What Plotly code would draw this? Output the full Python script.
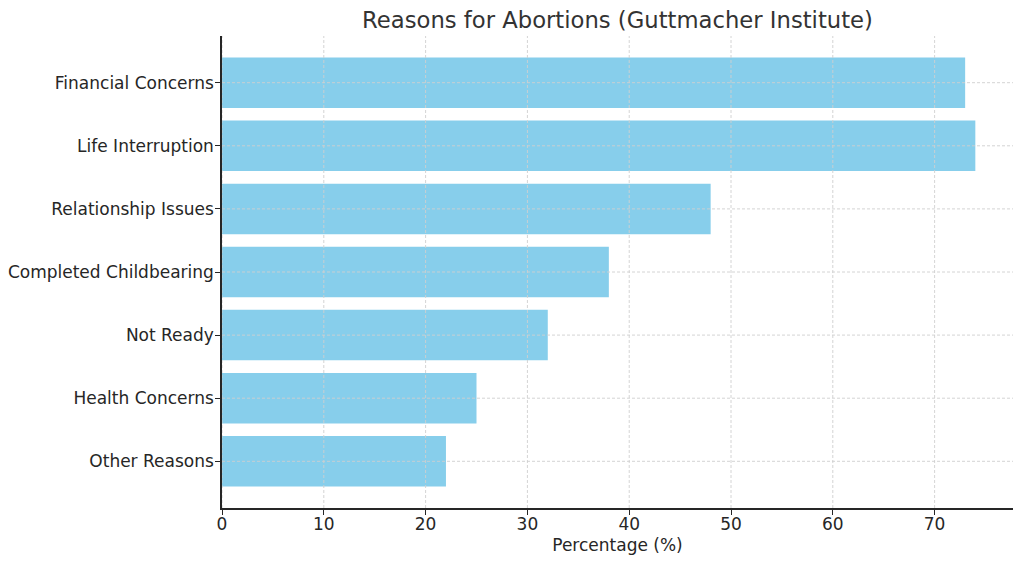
import plotly.graph_objects as go

categories = ["Financial Concerns", "Life Interruption", "Relationship Issues",
              "Completed Childbearing", "Not Ready", "Health Concerns", "Other Reasons"]
values = [73, 74, 48, 38, 32, 25, 22]
x_ticks = [0, 10, 20, 30, 40, 50, 60, 70]

cats = categories[::-1]
vals = values[::-1]

fig = go.Figure(go.Bar(
    x=vals, y=cats, orientation="h",
    marker=dict(color="#87CEEB", line=dict(width=0)),
    width=0.8,
))

grid_style = dict(color="#cfcfcf", width=0.9, dash="3px,2px")
# grid lines drawn over bars (as in the reference)
for t in x_ticks:
    fig.add_shape(type="line", xref="x", yref="paper", x0=t, x1=t, y0=0, y1=1,
                  line=grid_style, layer="above")
for c in cats:
    fig.add_shape(type="line", xref="paper", yref="y", x0=0, x1=1, y0=c, y1=c,
                  line=grid_style, layer="above")

font_family = "DejaVu Sans"
fig.update_layout(
    width=1024, height=563,
    margin=dict(l=222, r=11, t=36, b=55),
    paper_bgcolor="white", plot_bgcolor="white",
    font=dict(family=font_family, size=17, color="#262626"),
    title=dict(text="Reasons for Abortions (Guttmacher Institute)",
               x=(222 + 1013) / 2 / 1024, xanchor="center",
               y=1 - 20 / 563, yanchor="middle",
               font=dict(size=22.7, color="#333333")),
    showlegend=False,
)
fig.update_xaxes(
    range=[0, 77.7], tickvals=x_ticks, ticks="outside", ticklen=5, tickwidth=1.2,
    tickcolor="#262626", showline=True, linecolor="#262626", linewidth=1.5,
    showgrid=False, zeroline=False, automargin=False, ticklabelstandoff=-5,
    title=dict(text="Percentage (%)", standoff=6, font=dict(size=17)),
    tickfont=dict(size=17),
)
fig.update_yaxes(
    range=[-0.74, 6.74], ticks="outside", ticklen=5, tickwidth=1.2,
    tickcolor="#262626", showline=True, linecolor="#262626", linewidth=1.5,
    showgrid=False, automargin=False, tickfont=dict(size=17), ticklabelstandoff=-2,
)
fig.write_html("out.html")
